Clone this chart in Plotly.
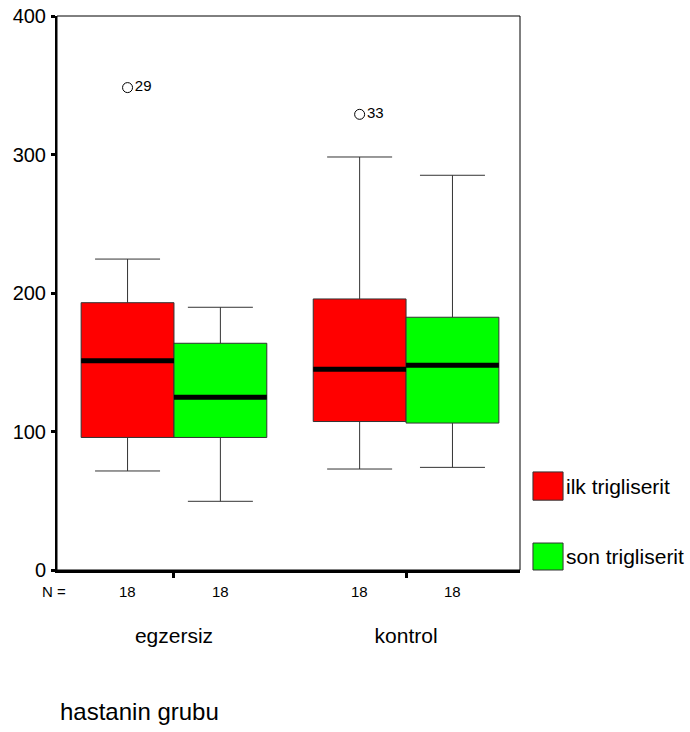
import plotly.graph_objects as go

# Box-plot summary statistics (triglyceride values) per group
groups = ["egzersiz", "kontrol"]
series_names = ["ilk trigliserit", "son trigliserit"]
series_colors = ["#ff0000", "#00ff00"]

q1 = {"ilk trigliserit": [95.7, 107.2], "son trigliserit": [95.7, 106.1]}
median = {"ilk trigliserit": [151.0, 145.0], "son trigliserit": [124.8, 147.9]}
q3 = {"ilk trigliserit": [193.0, 195.7], "son trigliserit": [163.7, 182.5]}
lower_whisker = {"ilk trigliserit": [71.5, 72.9], "son trigliserit": [49.6, 74.1]}
upper_whisker = {"ilk trigliserit": [224.5, 298.2], "son trigliserit": [189.7, 285.0]}
n_counts = {"ilk trigliserit": [18, 18], "son trigliserit": [18, 18]}

# Outliers: (group index, series, value, case label)
outlier_group = [0, 1]
outlier_series = ["ilk trigliserit", "ilk trigliserit"]
outlier_value = [348.3, 329.0]
outlier_label = ["29", "33"]

y_ticks = [0, 100, 200, 300, 400]

FONT = "Liberation Sans, Arial, sans-serif"
BOX_W = 0.4
offsets = {"ilk trigliserit": -BOX_W / 2, "son trigliserit": BOX_W / 2}

fig = go.Figure()

for name, color in zip(series_names, series_colors):
    xs = [i + offsets[name] for i in range(len(groups))]
    fig.add_trace(go.Box(
        x=xs,
        q1=q1[name], median=median[name], q3=q3[name],
        lowerfence=lower_whisker[name], upperfence=upper_whisker[name],
        width=BOX_W,
        whiskerwidth=0.7,
        fillcolor=color,
        line=dict(color="#333333", width=1),
        name=name,
        showlegend=False,
        hoverinfo="skip",
    ))

# Thick black median bars
for name in series_names:
    for i in range(len(groups)):
        xc = i + offsets[name]
        fig.add_trace(go.Scatter(
            x=[xc - BOX_W / 2, xc + BOX_W / 2],
            y=[median[name][i], median[name][i]],
            mode="lines",
            line=dict(color="black", width=5),
            showlegend=False,
            hoverinfo="skip",
        ))

# Outliers as open circles with case numbers
fig.add_trace(go.Scatter(
    x=[g + offsets[s] for g, s in zip(outlier_group, outlier_series)],
    y=outlier_value,
    mode="markers+text",
    marker=dict(symbol="circle-open", size=10, color="black", line=dict(width=1)),
    text=outlier_label,
    textposition="middle right",
    textfont=dict(family=FONT, size=15, color="black"),
    showlegend=False,
    hoverinfo="skip",
))

annotations = []
# N row
annotations.append(dict(x=-0.457, y=-0.039, xref="x", yref="paper", text="N =",
                        showarrow=False, xanchor="right", yanchor="middle",
                        font=dict(family=FONT, size=15, color="black")))
for name in series_names:
    for i in range(len(groups)):
        annotations.append(dict(x=i + offsets[name], y=-0.039, xref="x", yref="paper",
                                text=str(n_counts[name][i]), showarrow=False,
                                xanchor="center", yanchor="middle",
                                font=dict(family=FONT, size=15, color="black")))

# Axis title, left aligned
annotations.append(dict(x=0.002, y=-0.255, xref="paper", yref="paper", text="hastanin grubu",
                        showarrow=False, xanchor="left", yanchor="middle",
                        font=dict(family=FONT, size=24, color="black")))

# Custom legend
shapes = []
legend_boxes = [(0.126, 0.177), (0.0, 0.0487)]
for name, color, (y0, y1) in zip(series_names, series_colors, legend_boxes):
    shapes.append(dict(type="rect", xref="paper", yref="paper",
                       x0=1.028, x1=1.093, y0=y0, y1=y1,
                       fillcolor=color, line=dict(color="#333333", width=1)))
    annotations.append(dict(x=1.095, y=(y0 + y1) / 2, xref="paper", yref="paper", text=name,
                            showarrow=False, xanchor="left", yanchor="middle",
                            font=dict(family=FONT, size=21, color="black")))

# Plot frame (top and right borders)
shapes.append(dict(type="rect", xref="paper", yref="paper", x0=0, x1=1, y0=0, y1=1,
                   line=dict(color="black", width=1), fillcolor="rgba(0,0,0,0)", layer="below"))

fig.update_layout(
    width=690, height=732,
    margin=dict(l=57, r=170, t=16, b=162),
    paper_bgcolor="white", plot_bgcolor="white",
    font=dict(family=FONT, color="black"),
    showlegend=False,
    shapes=shapes,
    annotations=annotations,
    xaxis=dict(
        range=[-0.504, 1.491],
        tickmode="array", tickvals=list(range(len(groups))), ticktext=groups,
        ticks="outside", ticklen=5, tickwidth=3, tickcolor="black",
        ticklabelstandoff=40,
        tickfont=dict(family=FONT, size=21, color="black"),
        showgrid=False, zeroline=False, automargin=False,
        showline=True, linecolor="black", linewidth=3,
    ),
    yaxis=dict(
        range=[0, 400],
        tickmode="array", tickvals=y_ticks,
        ticks="outside", ticklen=4, tickwidth=3, tickcolor="black",
        tickfont=dict(family=FONT, size=20, color="black"),
        ticklabelstandoff=1,
        showgrid=False, zeroline=False, automargin=False,
        showline=True, linecolor="black", linewidth=2,
    ),
)

fig.write_html("out.html")
